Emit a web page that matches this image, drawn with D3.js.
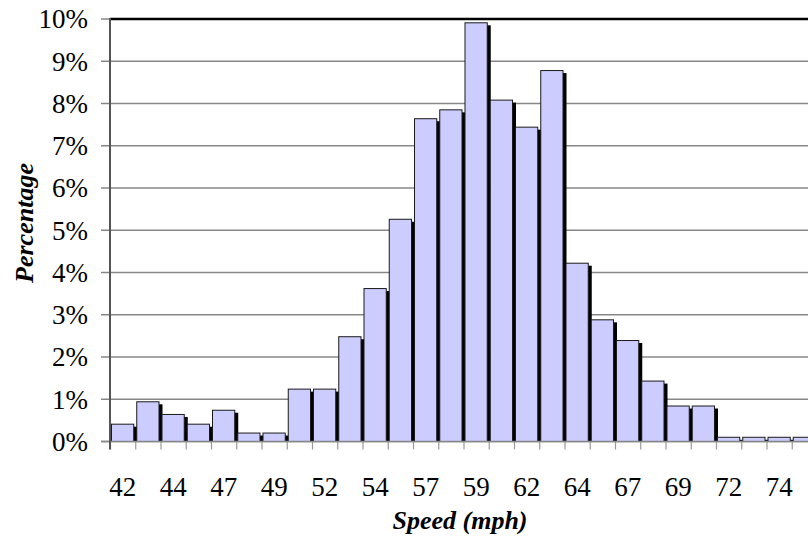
<!DOCTYPE html>
<html>
<head>
<meta charset="utf-8">
<script src="https://cdn.jsdelivr.net/npm/d3@7"></script>
<style>
  body { margin: 0; background: #fff; }
  svg { display: block; }
</style>
</head>
<body>
<div id="chart"></div>
<script>
// speed bins (only every other bin is labelled on the axis)
const speedLabels = ["42", "", "44", "", "47", "", "49", "", "52", "", "54", "", "57", "",
                     "59", "", "62", "", "64", "", "67", "", "69", "", "72", "", "74", ""];
// share of vehicles in each bin, percent
const percentages = [0.41, 0.94, 0.64, 0.41, 0.74, 0.2, 0.2, 1.24, 1.24, 2.48, 3.62, 5.26, 7.64, 7.85,
                     9.91, 8.08, 7.44, 8.78, 4.22, 2.88, 2.39, 1.43, 0.84, 0.84, 0.1, 0.1, 0.1, 0.1];
const yTicks = [0, 1, 2, 3, 4, 5, 6, 7, 8, 9, 10];

const width = 808, height = 542;
const plotLeft = 110, plotTop = 19, plotBottom = 441.5;
const binW = 25.25;
const plotRight = plotLeft + binW * percentages.length;
const serif = '"Liberation Serif", "Times New Roman", serif';

const svg = d3.select("#chart").append("svg")
    .attr("width", width)
    .attr("height", height)
    .style("font-family", serif);

const x = d3.scaleBand()
    .domain(d3.range(percentages.length))
    .range([plotLeft, plotRight])
    .padding(0);

const xEdge = d3.scaleLinear()
    .domain([0, percentages.length])
    .range([plotLeft, plotRight]);

const y = d3.scaleLinear()
    .domain([0, 10])
    .range([plotBottom, plotTop]);

// horizontal gridlines, with small ticks sticking out left of the axis
svg.append("g")
    .selectAll("line")
    .data(yTicks)
    .join("line")
    .attr("x1", plotLeft - 9)
    .attr("x2", width)
    .attr("y1", d => y(d))
    .attr("y2", d => y(d))
    .attr("stroke", "#878787")
    .attr("stroke-width", 1.5);

// top border of the plot area
svg.append("line")
    .attr("x1", plotLeft)
    .attr("x2", width)
    .attr("y1", y(10))
    .attr("y2", y(10))
    .attr("stroke", "#000")
    .attr("stroke-width", 2.5);

// y labels
svg.append("g")
    .selectAll("text")
    .data(yTicks)
    .join("text")
    .attr("x", 88)
    .attr("y", d => y(d))
    .attr("dy", "0.35em")
    .attr("text-anchor", "end")
    .style("font-family", serif)
    .style("font-size", "27px")
    .text(d => d + "%");

// x axis: ticks at the bin edges
svg.append("g")
    .attr("transform", `translate(0,${plotBottom})`)
    .call(d3.axisBottom(xEdge).tickValues(d3.range(percentages.length + 1)).tickSize(8).tickFormat(""))
    .call(g => g.select(".domain").remove())
    .selectAll("line")
    .attr("stroke", "#999")
    .attr("stroke-width", 1.2);

// bars with a black drop shadow
const bars = svg.append("g");
const bw = x.bandwidth() - 3;

bars.selectAll("rect.shadow")
    .data(percentages)
    .join("rect")
    .attr("class", "shadow")
    .attr("x", (d, i) => x(i) + 1.5 + 3.5)
    .attr("y", d => y(d) + 2.5)
    .attr("width", bw)
    .attr("height", d => plotBottom - y(d) - 2.5)
    .attr("fill", "#000");

bars.selectAll("rect.bar")
    .data(percentages)
    .join("rect")
    .attr("class", "bar")
    .attr("x", (d, i) => x(i) + 1.5)
    .attr("y", d => y(d))
    .attr("width", bw)
    .attr("height", d => plotBottom - y(d))
    .attr("fill", "#ccccff")
    .attr("stroke", "#1a1a1a")
    .attr("stroke-width", 1);

// baseline
svg.append("line")
    .attr("x1", plotLeft - 9)
    .attr("x2", width)
    .attr("y1", plotBottom)
    .attr("y2", plotBottom)
    .attr("stroke", "#878787")
    .attr("stroke-width", 1.5);

// left axis line
svg.append("line")
    .attr("x1", plotLeft)
    .attr("x2", plotLeft)
    .attr("y1", plotTop - 1)
    .attr("y2", plotBottom + 8)
    .attr("stroke", "#555")
    .attr("stroke-width", 2);

// x labels, centred under every other bin
svg.append("g")
    .selectAll("text")
    .data(speedLabels)
    .join("text")
    .attr("x", (d, i) => x(i) + x.bandwidth() / 2)
    .attr("y", 496)
    .attr("text-anchor", "middle")
    .style("font-family", serif)
    .style("font-size", "27px")
    .text(d => d);

// axis titles
svg.append("text")
    .attr("x", 460)
    .attr("y", 529)
    .attr("text-anchor", "middle")
    .style("font-family", serif)
    .style("font-size", "26px")
    .style("font-weight", "bold")
    .style("font-style", "italic")
    .text("Speed (mph)");

svg.append("text")
    .attr("transform", "translate(33,223) rotate(-90)")
    .attr("text-anchor", "middle")
    .style("font-family", serif)
    .style("font-size", "26px")
    .style("font-weight", "bold")
    .style("font-style", "italic")
    .text("Percentage");
</script>
</body>
</html>
